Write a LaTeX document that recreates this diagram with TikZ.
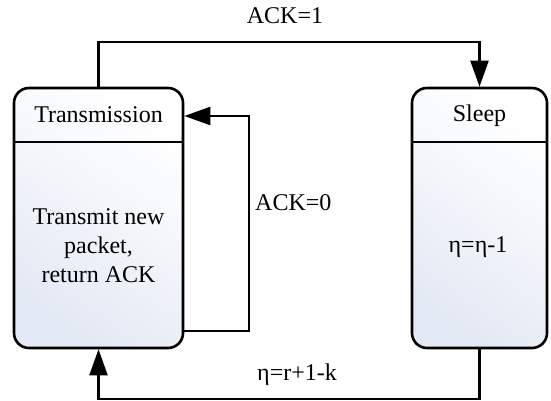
\documentclass[tikz,border=0pt]{standalone}
\usepackage{fontspec}
\setmainfont{Liberation Serif}
\newfontfamily\tnr{Liberation Serif}
\usetikzlibrary{arrows.meta,shadings}
\definecolor{boxlow}{HTML}{E3E9F4}
\begin{document}
\begin{tikzpicture}[x=1pt,y=1pt,
  font=\tnr\fontsize{24}{29}\selectfont,
  statebox/.style={draw=black, line width=2.6pt, rounded corners=15pt,
    top color=white, bottom color=boxlow, shading angle=-35,
    inner sep=0pt},
  divider/.style={line width=2.6pt},
  conn/.style={line width=2.2pt, -{Triangle[length=26pt,width=18pt]}},
  lbl/.style={inner sep=0pt}]
\useasboundingbox (0,0) rectangle (551,-401);
% state boxes
\node[statebox, minimum width=169pt, minimum height=260pt] (tx) at (98.5,-218) {};
\node[statebox, minimum width=135pt, minimum height=260pt] (sl) at (479.5,-218) {};
% dividers
\coordinate (txdl) at (14,-142);
\coordinate (txdr) at (183,-142);
\coordinate (sldl) at (412,-142);
\coordinate (sldr) at (547,-142);
\draw[divider] (txdl) -- (txdr);
\draw[divider] (sldl) -- (sldr);
% texts
\node[lbl] (txt) at (98.5,-115) {Transmission};
\node[lbl] (slt) at (479.5,-116) {Sleep};
\node[lbl, align=center] (txb) at (98.5,-246) {Transmit new\\packet,\\return ACK};
\node[lbl] (slb) at (478,-247) {η=η-1};
% connectors
\coordinate (loopstart) at ([yshift=-113]tx.east);
\coordinate (loopend) at ([yshift=102]tx.east);
\draw[conn] (tx.north) -- ++(0,45) -| (sl.north);
\draw[conn] (sl.south) -- ++(0,-50) -| (tx.south);
\draw[conn] (loopstart) -- ++(65,0) |- (loopend);
% labels
\node[lbl] (l1) at (285,-16) {ACK=1};
\node[lbl, anchor=west] (l0) at (255,-203) {ACK=0};
\node[lbl] (l2) at (297,-375) {η=r+1-k};
\end{tikzpicture}
\end{document}
